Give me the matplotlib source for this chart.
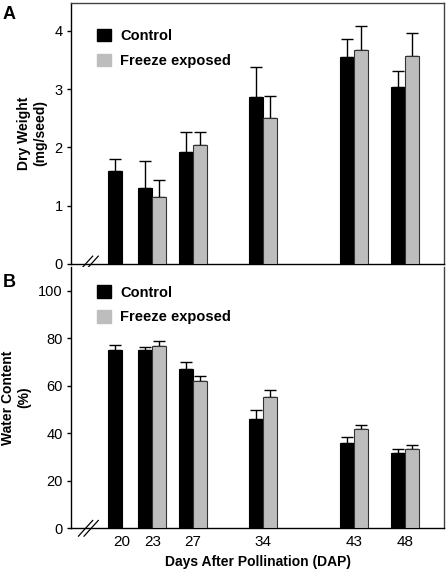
import matplotlib
matplotlib.use("Agg")
import matplotlib.pyplot as plt
from matplotlib.patches import Patch
import numpy as np

plt.rcParams['font.family'] = ['Liberation Sans', 'DejaVu Sans']

# data
days = np.array([20, 23, 27, 34, 43, 48])

dw_control = np.array([1.60, 1.30, 1.93, 2.87, 3.55, 3.04])
dw_control_err = np.array([0.20, 0.47, 0.33, 0.51, 0.32, 0.28])
dw_freeze = np.array([np.nan, 1.15, 2.05, 2.50, 3.67, 3.57])
dw_freeze_err = np.array([np.nan, 0.30, 0.21, 0.38, 0.41, 0.39])

wc_control = np.array([75.2, 74.9, 66.9, 46.2, 35.8, 31.7])
wc_control_err = np.array([2.1, 1.4, 3.0, 3.5, 2.8, 1.8])
wc_freeze = np.array([np.nan, 76.7, 62.0, 55.2, 41.9, 33.2])
wc_freeze_err = np.array([np.nan, 2.1, 2.0, 3.1, 1.5, 1.7])

labels = ['Control', 'Freeze exposed']
gray = '#bdbdbd'
width = 1.39

fig = plt.figure(figsize=(4.48, 5.72), dpi=100)
axA = fig.add_axes([0.1585, 0.5385, 0.8326, 0.4563])
axB = fig.add_axes([0.1585, 0.0764, 0.8326, 0.4568])


def draw_panel(ax, ctrl, ctrl_err, frz, frz_err, leg_y):
    ax.bar(days - width / 2, ctrl, width, color='black', edgecolor='black', linewidth=0.8, zorder=3)
    ax.errorbar(days - width / 2, ctrl, yerr=[np.zeros_like(ctrl_err), ctrl_err],
                fmt='none', ecolor='black', elinewidth=1, capsize=4, capthick=1, zorder=2)
    m = ~np.isnan(frz)
    ax.bar(days[m] + width / 2, frz[m], width, color=gray, edgecolor='#333333', linewidth=0.8, zorder=3)
    ax.errorbar(days[m] + width / 2, frz[m], yerr=[np.zeros(m.sum()), frz_err[m]],
                fmt='none', ecolor='black', elinewidth=1, capsize=4, capthick=1, zorder=2)
    ax.set_xlim(14.95, 51.9)
    ax.tick_params(axis='y', direction='out', length=3, width=1, pad=3, labelsize=10.5)
    handles = [Patch(facecolor='black', edgecolor='black'),
               Patch(facecolor=gray, edgecolor=gray)]
    ax.legend(handles, labels, loc='upper left', bbox_to_anchor=(0.055, leg_y),
              frameon=False, handlelength=0.95, handleheight=0.95, handletextpad=0.6,
              labelspacing=0.72, borderaxespad=0, prop={'weight': 'bold', 'size': 10.5})
    # axis break marks
    for dx in (0.0, 0.015):
        ax.plot([0.02 + dx, 0.058 + dx], [-0.03, 0.03], color='black', lw=0.9,
                transform=ax.transAxes, clip_on=False, zorder=5)
    for s in ax.spines.values():
        s.set_linewidth(1)


draw_panel(axA, dw_control, dw_control_err, dw_freeze, dw_freeze_err, 0.9235)
axA.set_ylim(0, 4.48)
axA.set_yticks([0, 1, 2, 3, 4])
axA.set_xticks([])
axA.set_ylabel('Dry Weight\n(mg/seed)', fontsize=10, fontweight='bold', labelpad=5)
for s in ('top', 'right'):
    axA.spines[s].set_color('#444444')

draw_panel(axB, wc_control, wc_control_err, wc_freeze, wc_freeze_err, 0.952)
axB.set_ylim(0, 110)
axB.set_yticks([0, 20, 40, 60, 80, 100])
axB.set_xticks(days)
axB.set_xticklabels([str(d) for d in days], fontsize=11)
axB.tick_params(axis='x', length=0, pad=5)
axB.spines['top'].set_visible(False)
axB.spines['right'].set_color('#444444')
axB.set_ylabel('Water Content\n(%)', fontsize=10, fontweight='bold', labelpad=5)
axB.set_xlabel('Days After Pollination (DAP)', fontsize=10, fontweight='bold', labelpad=4)

fig.text(0.006, 0.9668, 'A', fontsize=13, fontweight='bold', va='baseline', ha='left')
fig.text(0.006, 0.4983, 'B', fontsize=13, fontweight='bold', va='baseline', ha='left')

fig.savefig('out.png', dpi=100)
